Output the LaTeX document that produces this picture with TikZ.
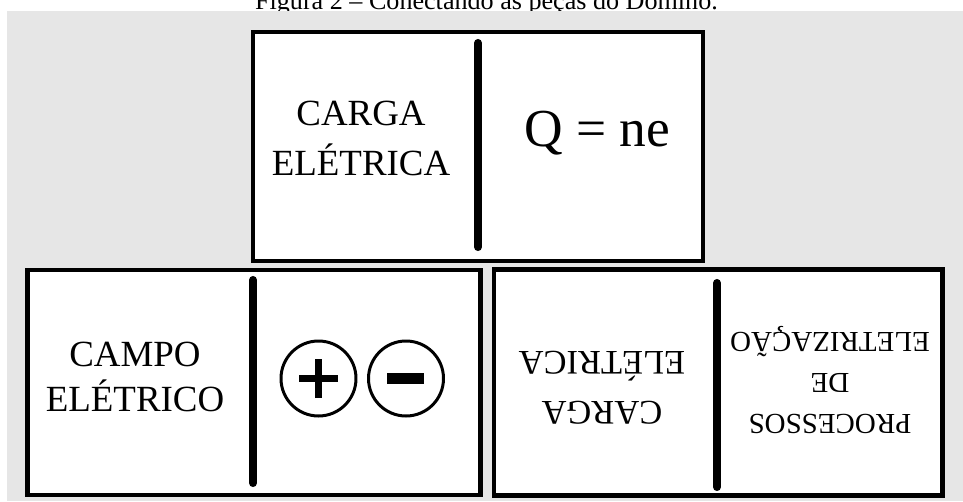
\documentclass[tikz,border=0pt]{standalone}
\usepackage{fontspec}
\setmainfont{Liberation Serif}
\definecolor{fundo}{HTML}{E6E6E6}
\begin{document}
\begin{tikzpicture}[line width=0.6pt,
  peca/.style={draw=black, fill=white, line width=1.2pt},
  barra/.style={line width=2.3pt, line cap=round},
  sinal/.style={line width=0.85pt}]
  \useasboundingbox (0,0) rectangle (9.63,5.01);
  \clip (0,0) rectangle (9.63,5.01);
  % título (cortado pelo fundo)
  \node[anchor=base, inner sep=0pt, font=\fontsize{7.43}{9}\selectfont] (titulo) at (4.865,4.92) {Figura 2 – Conectando as peças do Dominó.};
  \fill[fundo] (0.07,0) rectangle (9.63,4.90);
  % peça de cima
  \draw[peca] (2.53,2.40) rectangle (7.03,4.69);
  \draw[barra] (4.78,4.58) -- (4.78,2.54);
  \node[align=center, font=\fontsize{10.5}{14.2}\selectfont] (cargaA) at (3.61,3.63) {CARGA\\ELÉTRICA};
  \node[font=\fontsize{15.2}{18}\selectfont] (formula) at (5.97,3.68) {Q = ne};
  % peça de baixo, esquerda
  \draw[peca] (0.275,0.06) rectangle (4.805,2.31);
  \draw[barra] (2.53,2.21) -- (2.53,0.18);
  \node[align=center, font=\fontsize{10.5}{12.8}\selectfont] (campo) at (1.35,1.24) {CAMPO\\ELÉTRICO};
  % cargas + e -
  \draw[sinal] (3.185,1.225) circle (0.375);
  \draw[sinal] (4.06,1.225) circle (0.375);
  \draw[line width=2pt] (2.99,1.225) -- (3.38,1.225);
  \draw[line width=2pt] (3.185,1.03) -- (3.185,1.42);
  \draw[line width=3.1pt] (3.875,1.225) -- (4.245,1.225);
  % peça de baixo, direita (de cabeça para baixo)
  \draw[peca] (4.94,0.055) rectangle (9.425,2.315);
  \draw[barra] (7.17,2.18) -- (7.17,0.14);
  \node[rotate=180, align=center, font=\fontsize{9.8}{14.2}\selectfont] (cargaB) at (6.02,1.13) {CARGA\\ELÉTRICA};
  \node[rotate=180, align=center, font=\fontsize{8.25}{11.6}\selectfont] (processos) at (8.30,1.21) {PROCESSOS\\DE\\ELETRIZAÇÃO};
\end{tikzpicture}
\end{document}
